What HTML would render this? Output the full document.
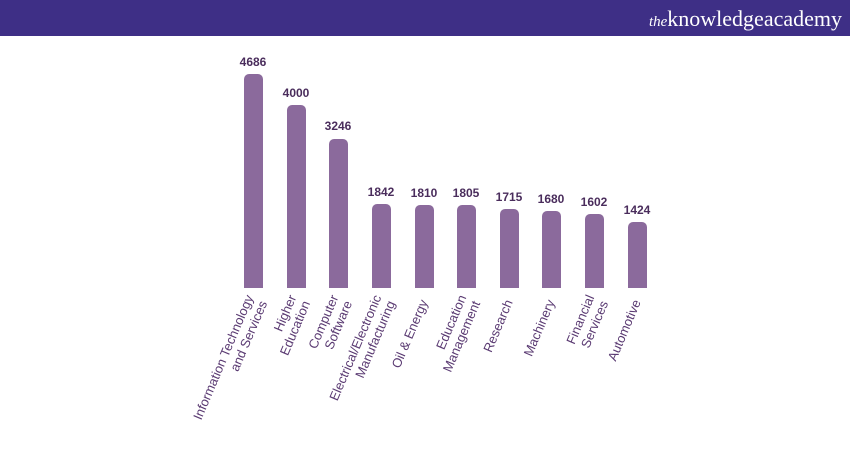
<!DOCTYPE html><html><head><style>body{margin:0;background:#fff}</style></head><body>
<svg width="850" height="450" xmlns="http://www.w3.org/2000/svg" font-family="Liberation Sans, sans-serif">
<rect x="0" y="0" width="850" height="36" fill="#3e2f86"/>
<text x="842" y="26" text-anchor="end" font-family="Liberation Serif, serif" font-size="22" fill="#fff"><tspan font-style="italic" font-size="15">the</tspan>knowledgeacademy</text>
<g fill="#8b6a9c">
<rect x="244" y="74" width="19" height="220" rx="5"/>
<rect x="287" y="105" width="19" height="189" rx="5"/>
<rect x="329" y="139" width="19" height="155" rx="5"/>
<rect x="372" y="204" width="19" height="90" rx="5"/>
<rect x="415" y="205" width="19" height="89" rx="5"/>
<rect x="457" y="205" width="19" height="89" rx="5"/>
<rect x="500" y="209" width="19" height="85" rx="5"/>
<rect x="542" y="211" width="19" height="83" rx="5"/>
<rect x="585" y="214" width="19" height="80" rx="5"/>
<rect x="628" y="222" width="19" height="72" rx="5"/>
</g>
<rect x="200" y="288" width="460" height="10" fill="#fff"/>
<g font-size="12" font-weight="bold" fill="#4a2d5c" text-anchor="middle">
<text x="253" y="66">4686</text><text x="296" y="97">4000</text><text x="338" y="130">3246</text>
<text x="381" y="196">1842</text><text x="424" y="197">1810</text><text x="466" y="197">1805</text>
<text x="509" y="201">1715</text><text x="551" y="203">1680</text><text x="594" y="206">1602</text><text x="637" y="214">1424</text>
</g>
<g font-size="13" fill="#5a3a72" text-anchor="end">
<g transform="translate(260,300) rotate(-67)"><text y="-7">Information Technology</text><text y="8">and Services</text></g>
<g transform="translate(303,300) rotate(-67)"><text y="-7">Higher</text><text y="8">Education</text></g>
<g transform="translate(345,300) rotate(-67)"><text y="-7">Computer</text><text y="8">Software</text></g>
<g transform="translate(388,300) rotate(-67)"><text y="-7">Electrical/Electronic</text><text y="8">Manufacturing</text></g>
<g transform="translate(428,302) rotate(-67)"><text y="0">Oil &amp; Energy</text></g>
<g transform="translate(473,300) rotate(-67)"><text y="-7">Education</text><text y="8">Management</text></g>
<g transform="translate(513,302) rotate(-67)"><text y="0">Research</text></g>
<g transform="translate(555,302) rotate(-67)"><text y="0">Machinery</text></g>
<g transform="translate(601,300) rotate(-67)"><text y="-7">Financial</text><text y="8">Services</text></g>
<g transform="translate(641,302) rotate(-67)"><text y="0">Automotive</text></g>
</g>
</svg>
</body></html>
